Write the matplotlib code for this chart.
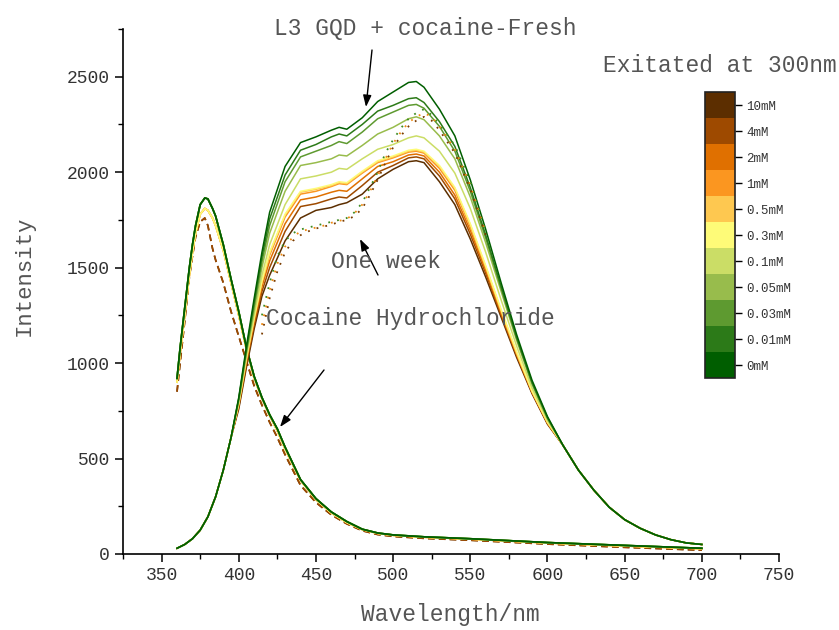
import matplotlib
matplotlib.use("Agg")
import matplotlib.pyplot as plt
import numpy as np
from matplotlib.colors import ListedColormap, BoundaryNorm
import matplotlib.colorbar as mcolorbar
from matplotlib.ticker import MultipleLocator

FONT = ["Liberation Mono", "DejaVu Sans Mono"]
plt.rcParams['font.family'] = FONT

# ---------------- data ----------------
concentrations = ["0mM", "0.01mM", "0.03mM", "0.05mM", "0.1mM", "0.3mM",
                  "0.5mM", "1mM", "2mM", "4mM", "10mM"]
colors = ["#005E00", "#2C7A18", "#5E9A30", "#98BC4C", "#CBDD66", "#FEFB78",
          "#FEC850", "#FB9620", "#E07000", "#9E4A00", "#5C2E00"]

# fresh GQD emission (shared rise, per-series middle, shared tail)
rise_wl = [360, 365, 370, 375, 380, 385, 390, 395]
rise_I = [30, 50, 80, 125, 195, 300, 440, 610]
mid_wl = [400, 405, 410, 415, 420, 430, 440, 450, 460, 465, 470, 480, 490,
          500, 510, 515, 520, 530, 540, 550, 560, 570, 580, 590, 600]
fresh_0mM = [820, 1090, 1340, 1580, 1790, 2030, 2155, 2185, 2220, 2235, 2225, 2285, 2370, 2420, 2470, 2475, 2445, 2330, 2190, 1960, 1700, 1420, 1150, 910, 720]
fresh_001mM = [815, 1075, 1320, 1555, 1755, 1985, 2115, 2145, 2185, 2200, 2190, 2250, 2320, 2350, 2385, 2390, 2365, 2265, 2135, 1920, 1670, 1400, 1135, 900, 715]
fresh_003mM = [810, 1065, 1300, 1530, 1720, 1950, 2080, 2110, 2140, 2160, 2150, 2210, 2280, 2315, 2350, 2355, 2335, 2240, 2110, 1900, 1655, 1390, 1130, 895, 712]
fresh_005mM = [805, 1055, 1280, 1500, 1680, 1900, 2035, 2050, 2070, 2090, 2085, 2140, 2200, 2235, 2280, 2290, 2275, 2190, 2070, 1870, 1630, 1375, 1120, 890, 708]
fresh_01mM = [795, 1040, 1255, 1460, 1620, 1830, 1965, 1980, 2000, 2020, 2015, 2070, 2120, 2145, 2180, 2190, 2180, 2110, 1995, 1810, 1580, 1330, 1090, 870, 700]
fresh_03mM = [790, 1030, 1240, 1430, 1580, 1780, 1900, 1915, 1935, 1950, 1945, 2005, 2060, 2085, 2115, 2120, 2110, 2035, 1920, 1730, 1510, 1280, 1060, 855, 692]
fresh_05mM = [790, 1025, 1235, 1425, 1575, 1775, 1895, 1910, 1930, 1945, 1940, 2000, 2055, 2080, 2110, 2115, 2105, 2030, 1915, 1725, 1505, 1275, 1055, 852, 690]
fresh_1mM = [785, 1020, 1230, 1420, 1565, 1765, 1885, 1900, 1925, 1940, 1935, 1995, 2050, 2075, 2105, 2110, 2100, 2020, 1905, 1715, 1500, 1270, 1050, 850, 688]
fresh_2mM = [780, 1010, 1215, 1400, 1535, 1730, 1855, 1870, 1895, 1905, 1900, 1965, 2030, 2055, 2090, 2095, 2085, 2000, 1880, 1695, 1485, 1260, 1045, 848, 686]
fresh_4mM = [770, 995, 1200, 1375, 1500, 1690, 1820, 1835, 1860, 1870, 1865, 1930, 2000, 2035, 2075, 2080, 2070, 1980, 1860, 1675, 1470, 1250, 1040, 845, 684]
fresh_10mM = [760, 980, 1180, 1350, 1460, 1640, 1760, 1800, 1815, 1830, 1840, 1885, 1965, 2015, 2055, 2060, 2050, 1950, 1830, 1650, 1450, 1240, 1030, 840, 680]
tail_wl = [610, 620, 630, 640, 650, 660, 670, 680, 690, 700]
tail_I = [570, 440, 335, 245, 180, 135, 100, 75, 58, 50]
fresh_mid = [fresh_0mM, fresh_001mM, fresh_003mM, fresh_005mM, fresh_01mM, fresh_03mM,
             fresh_05mM, fresh_1mM, fresh_2mM, fresh_4mM, fresh_10mM]

# cocaine hydrochloride emission
coc_wl = [360, 362, 365, 368, 370, 372, 375, 378, 380, 383, 385, 390, 395, 400, 405, 410,
          415, 420, 425, 430, 440, 450, 460, 470, 480, 490, 500, 520, 550, 600, 650, 700]
coc_green = [920, 1080, 1290, 1500, 1620, 1720, 1830, 1865, 1860, 1810, 1770, 1620, 1440, 1270, 1080, 930,
             820, 730, 655, 560, 390, 290, 220, 170, 130, 110, 100, 90, 80, 60, 45, 30]
coc_orange = [900, 1050, 1250, 1460, 1580, 1680, 1780, 1810, 1800, 1760, 1720, 1590, 1420, 1250, 1070, 920,
              815, 725, 645, 550, 385, 285, 215, 165, 128, 108, 98, 88, 78, 58, 42, 28]
coc_brown = [850, 1000, 1220, 1450, 1560, 1660, 1740, 1760, 1720, 1600, 1540, 1420, 1270, 1140, 1010, 880,
             780, 690, 610, 520, 360, 270, 205, 158, 122, 102, 92, 82, 72, 52, 35, 20]
coc_series = [coc_green, coc_green, coc_green, coc_green, coc_green, coc_orange,
              coc_orange, coc_orange, coc_orange, coc_brown, coc_brown]
coc_dashed = [False, False, False, False, False, False, False, False, False, True, True]

# one week (dotted)
week_wl = [415, 420, 425, 430, 435, 440, 445, 450, 455, 460, 465, 470, 475, 480, 485, 490,
           495, 500, 505, 510, 515, 520, 525, 530, 540, 550, 560]
week_green = [1250, 1420, 1560, 1640, 1680, 1700, 1710, 1720, 1730, 1740, 1750, 1760, 1790, 1840, 1920, 2000,
              2100, 2170, 2230, 2280, 2310, 2330, 2300, 2250, 2140, 1950, 1690]
week_orange = [1200, 1380, 1520, 1610, 1660, 1690, 1700, 1710, 1720, 1735, 1745, 1755, 1785, 1830, 1900, 1980,
               2070, 2150, 2210, 2260, 2290, 2310, 2290, 2240, 2120, 1930, 1680]
week_brown = [1150, 1340, 1480, 1580, 1640, 1670, 1690, 1705, 1715, 1725, 1740, 1750, 1770, 1810, 1880, 1960,
              2050, 2130, 2190, 2240, 2270, 2290, 2270, 2220, 2100, 1910, 1670]
week_series = [week_green, week_orange, week_brown]
week_colors = ["#3D8B20", "#F08A10", "#7A3C00"]

# ---------------- figure ----------------
W, H = 839, 630
fig = plt.figure(figsize=(W / 100, H / 100), dpi=100)
ax = fig.add_axes([123 / W, (H - 554) / H, (779 - 123) / W, (554 - 29) / H])

# cocaine curves
for i in range(len(concentrations) - 1, -1, -1):
    ls = (0, (4, 2.5)) if coc_dashed[i] else '-'
    ax.plot(coc_wl, coc_series[i], color=colors[i], lw=1.2, ls=ls, zorder=2)

# fresh curves
for i in range(len(concentrations) - 1, -1, -1):
    wl = rise_wl + mid_wl + tail_wl
    I = rise_I + fresh_mid[i] + tail_I
    ax.plot(wl, I, color=colors[i], lw=1.1, zorder=3)

# one-week curves
for s, c in zip(week_series, week_colors):
    ax.plot(week_wl, s, color=c, lw=1.3, ls=(0, (1, 4)), zorder=4)

ax.set_xlim(325, 750)
ax.set_ylim(0, 2750)
ax.xaxis.set_major_locator(MultipleLocator(50))
ax.xaxis.set_minor_locator(MultipleLocator(25))
ax.yaxis.set_major_locator(MultipleLocator(500))
ax.yaxis.set_minor_locator(MultipleLocator(250))
for sp in ['top', 'right']:
    ax.spines[sp].set_visible(False)
for sp in ['left', 'bottom']:
    ax.spines[sp].set_linewidth(1.2)
ax.tick_params(which='major', direction='out', length=6, width=1.1,
               labelsize=13, labelcolor='#333333')
ax.tick_params(which='minor', direction='out', length=3.5, width=1.0)
ax.set_xticks([350, 400, 450, 500, 550, 600, 650, 700, 750])
ax.set_xticklabels(["350", "400", "450", "500", "550", "600", "650", "700", "750"])

# labels / annotations (figure pixel coordinates)
def ftxt(x, y, s, size=16.5, **kw):
    fig.text(x / W, (H - y) / H, s, fontsize=size, color='#555555',
             ha='center', va='center', family=FONT, **kw)

ftxt(450, 614, "Wavelength/nm")
ftxt(24, 276, "Intensity", size=16, rotation=90)
ftxt(425, 29, "L3 GQD + cocaine-Fresh")
ftxt(720, 66, "Exitated at 300nm")
ftxt(386, 261, "One week")
ftxt(410, 319, "Cocaine Hydrochloride")

def farrow(x0, y0, x1, y1):
    fig.add_artist(matplotlib.patches.FancyArrowPatch(
        (x0 / W, (H - y0) / H), (x1 / W, (H - y1) / H), transform=fig.transFigure,
        arrowstyle='-|>,head_length=7,head_width=2.5', color='black', lw=1.0,
        shrinkA=0, shrinkB=0))

farrow(372, 50, 366, 107)
farrow(378, 275, 360, 239)
farrow(324, 370, 280, 427)

# colorbar
cax = fig.add_axes([705 / W, (H - 378) / H, 30 / W, (378 - 92) / H])
cmap = ListedColormap(colors)
norm = BoundaryNorm(np.arange(len(colors) + 1), cmap.N)
cb = mcolorbar.ColorbarBase(cax, cmap=cmap, norm=norm, orientation='vertical')
cb.set_ticks(np.arange(len(colors)) + 0.5)
cb.set_ticklabels(concentrations)
cax.minorticks_off()
cax.tick_params(which='minor', length=0)
cax.tick_params(length=5, width=1.0, labelsize=9, labelcolor='#333333', pad=3)
cb.outline.set_linewidth(1.2)
cb.outline.set_edgecolor('#222222')

fig.savefig("out.png", dpi=100)
